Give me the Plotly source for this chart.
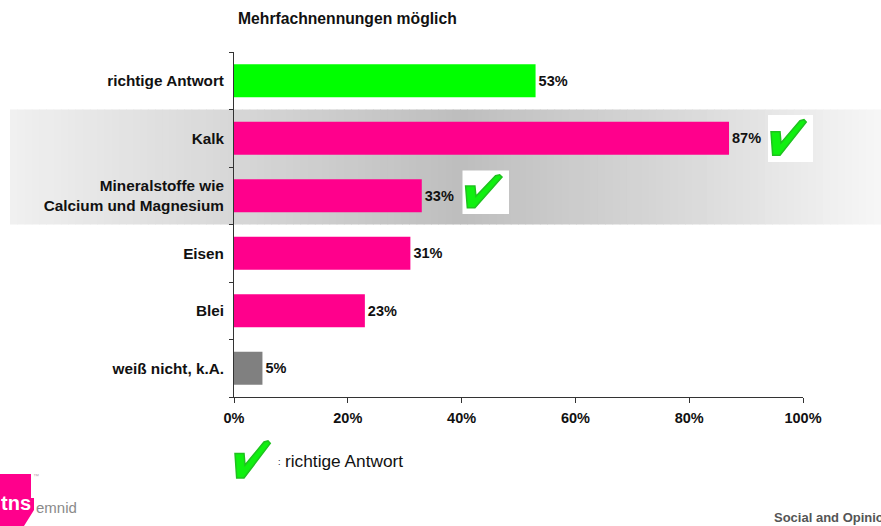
import plotly.graph_objects as go

# ---- data ----
categories = ["richtige Antwort", "Kalk", "Mineralstoffe wie<br>Calcium und Magnesium",
              "Eisen", "Blei", "weiß nicht, k.A."]
values = [0.53, 0.87, 0.33, 0.31, 0.23, 0.05]
bar_colors = ["#00FF00", "#FF008C", "#FF008C", "#FF008C", "#FF008C", "#808080"]
tick_vals = [0, 0.2, 0.4, 0.6, 0.8, 1.0]
tick_text = ["0%", "20%", "40%", "60%", "80%", "100%"]
title_text = "Mehrfachnennungen möglich"
legend_text = "richtige Antwort"

W, H = 881, 526
ML, MR, MT, MB = 234, 78, 52, 129
PW, PH = W - ML - MR, H - MT - MB
FONT = "Liberation Sans, Arial, sans-serif"


def px(x):
    return (x - ML) / PW


def py(y):
    return (H - MB - y) / PH


fig = go.Figure()
fig.add_trace(go.Bar(
    x=values, y=categories, orientation="h",
    marker=dict(color=bar_colors, line=dict(width=0)),
    width=0.57,
    text=[f"<b>{round(v*100)}%</b>" for v in values],
    textposition="outside", cliponaxis=False,
    textfont=dict(family=FONT, size=14.5, color="#111"),
    hoverinfo="skip",
))

shapes = []
# gradient band behind "Kalk" and "Mineralstoffe" rows
stops = [(10, 240), (234, 215), (460, 190), (700, 219), (881, 247)]


def gray_at(x):
    for (x0, c0), (x1, c1) in zip(stops[:-1], stops[1:]):
        if x0 <= x <= x1:
            return c0 + (c1 - c0) * (x - x0) / (x1 - x0)
    return stops[-1][1]


n = 120
x_start, x_end = 10, 881
step = (x_end - x_start) / n
for i in range(n):
    xa = x_start + i * step
    g = int(round(gray_at(xa + step / 2)))
    shapes.append(dict(type="rect", xref="paper", yref="y",
                       x0=px(xa), x1=px(xa + step + 0.8), y0=0.5, y1=2.5,
                       fillcolor=f"rgb({g},{g},{g})", line=dict(width=0), layer="below"))

# check-mark polygon in unit box coordinates
check_pts = [(0.067, 0.357), (0.267, 0.357), (0.289, 0.593), (0.711, 0.121),
             (0.80, 0.10), (0.85, 0.15), (0.267, 0.857), (0.104, 0.857)]


def check_path(bx0, by0, bw, bh):
    pts = [(px(bx0 + u * bw), py(by0 + v * bh)) for u, v in check_pts]
    return "M " + " L ".join(f"{a:.5f},{b:.5f}" for a, b in pts) + " Z"


def add_check(bx0, by0, bw, bh, box=True):
    if box:
        shapes.append(dict(type="rect", xref="paper", yref="paper",
                           x0=px(bx0), x1=px(bx0 + bw), y0=py(by0 + bh), y1=py(by0),
                           fillcolor="white", line=dict(width=0), layer="above"))
    shapes.append(dict(type="path", xref="paper", yref="paper",
                       path=check_path(bx0, by0, bw, bh),
                       fillcolor="#10F010", line=dict(color="#1FC21F", width=1.5),
                       layer="above"))


add_check(768, 115, 45, 47)
add_check(462.5, 170.5, 46.5, 43.5)
add_check(232, 436, 45, 49, box=False)

# tns logo block
logo = [(0, 474), (31, 474), (31, 498), (34, 498), (34, 510), (24, 526), (0, 526)]
shapes.append(dict(type="path", xref="paper", yref="paper",
                   path="M " + " L ".join(f"{px(a):.5f},{py(b):.5f}" for a, b in logo) + " Z",
                   fillcolor="#FF008C", line=dict(width=0), layer="above"))

annotations = [
    dict(text=f"<b>{title_text}</b>", xref="paper", yref="paper", x=px(347), y=py(18),
         showarrow=False, font=dict(family=FONT, size=15.7, color="#111"),
         xanchor="center", yanchor="middle"),
    dict(text=":", xref="paper", yref="paper", x=px(279), y=py(462),
         showarrow=False, font=dict(family=FONT, size=9, color="#111"),
         xanchor="center", yanchor="middle"),
    dict(text=legend_text, xref="paper", yref="paper", x=px(283), y=py(461),
         showarrow=False, font=dict(family=FONT, size=17.3, color="#111"),
         xanchor="left", yanchor="middle"),
    dict(text="<b>tns</b>", xref="paper", yref="paper", x=px(33), y=py(503),
         showarrow=False, font=dict(family=FONT, size=20, color="white"),
         xanchor="right", yanchor="middle"),
    dict(text="emnid", xref="paper", yref="paper", x=px(34), y=py(507),
         showarrow=False, font=dict(family=FONT, size=15, color="#8a8a8a"),
         xanchor="left", yanchor="middle"),
    dict(text="™", xref="paper", yref="paper", x=px(36), y=py(476),
         showarrow=False, font=dict(family=FONT, size=6, color="#c0a0b0"),
         xanchor="center", yanchor="middle"),
    dict(text="<b>Social and Opinion Research</b>", xref="paper", yref="paper",
         x=px(772), y=py(517), showarrow=False,
         font=dict(family=FONT, size=13, color="#555"),
         xanchor="left", yanchor="middle"),
]

fig.update_layout(
    width=W, height=H,
    margin=dict(l=ML, r=MR, t=MT, b=MB, pad=0),
    paper_bgcolor="white", plot_bgcolor="rgba(0,0,0,0)",
    showlegend=False, bargap=0.43,
    shapes=shapes, annotations=annotations,
    font=dict(family=FONT, color="#111"),
    xaxis=dict(range=[0, 1], tickvals=tick_vals, ticktext=[f"<b>{t}</b>" for t in tick_text],
               showgrid=False, zeroline=False, showline=True, linecolor="#333", linewidth=1,
               ticks="outside", ticklen=5, tickcolor="#333", ticklabelstandoff=3,
               tickfont=dict(family=FONT, size=14.5, color="#111"), fixedrange=True),
    yaxis=dict(categoryorder="array", categoryarray=categories, autorange="reversed",
               tickmode="array", tickvals=categories,
               ticktext=[f"<b>{c}</b>" for c in categories],
               showgrid=False, zeroline=False, showline=True, linecolor="#333", linewidth=1,
               ticks="outside", ticklen=4, tickcolor="#333", tickson="boundaries",
               ticklabelstandoff=6,
               tickfont=dict(family=FONT, size=15.3, color="#111"), fixedrange=True),
)

fig.write_html(
    "out.html",
    config={"displayModeBar": False},
    post_script="document.body.style.margin='0';document.body.style.overflow='hidden';",
)
